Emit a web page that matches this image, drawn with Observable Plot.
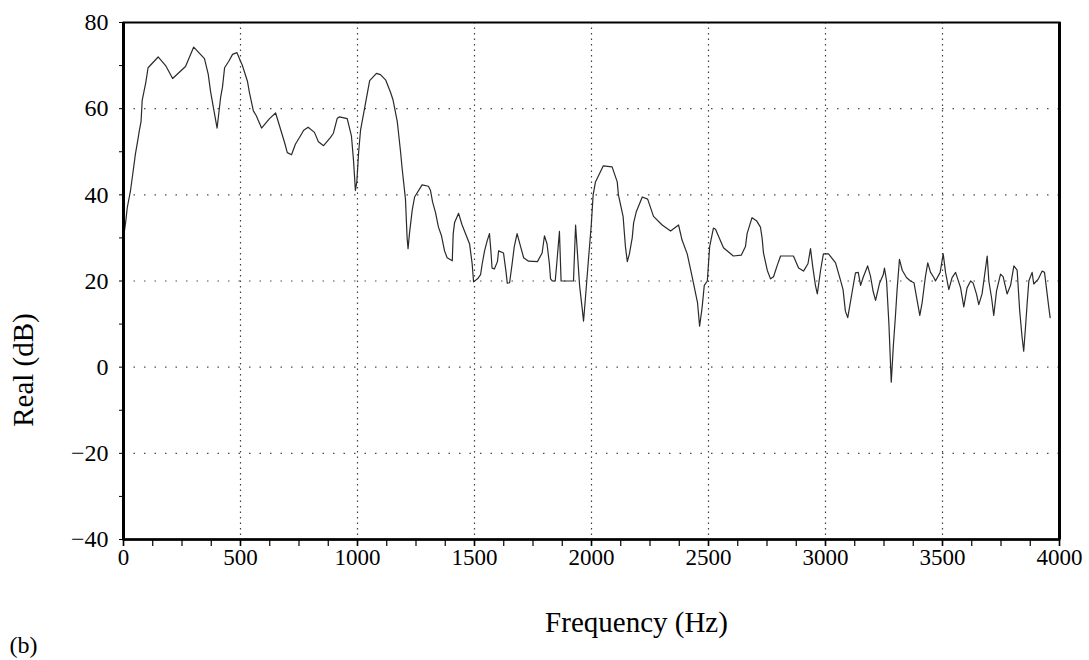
<!DOCTYPE html>
<html>
<head>
<meta charset="utf-8">
<script src="https://cdn.jsdelivr.net/npm/d3@7"></script>
<script src="https://cdn.jsdelivr.net/npm/@observablehq/plot@0.6"></script>
<style>
  html, body { margin: 0; padding: 0; background: #ffffff; }
  #chart svg { display: block; }
</style>
</head>
<body>
<div id="chart"></div>
<script>
// Frequency (Hz) and real part (dB)
const freqHz = [
  0,10,16,30,40,51,62,68,75,80,
  95,105,148,180,210,265,300,346,362,372,
  385,400,415,423,432,450,466,485,500,507,
  530,538,555,567,590,624,650,664,688,700,
  718,735,752,770,789,816,833,855,884,897,
  913,923,956,974,983,991,997,1005,1013,1030,
  1052,1081,1098,1120,1141,1152,1170,1176,1184,1191,
  1205,1212,1216,1222,1234,1244,1276,1303,1312,1321,
  1333,1346,1359,1372,1383,1405,1409,1415,1432,1447,
  1469,1479,1490,1496,1513,1526,1533,1543,1554,1564,
  1570,1575,1585,1598,1603,1624,1635,1640,1650,1662,
  1670,1682,1697,1710,1731,1769,1789,1799,1810,1820,
  1825,1833,1845,1853,1863,1870,1923,1932,1949,1960,
  1966,1974,1987,1999,2007,2017,2050,2088,2110,2115,
  2135,2145,2153,2162,2174,2180,2191,2217,2240,2265,
  2302,2338,2372,2387,2409,2430,2453,2462,2473,2482,
  2495,2505,2521,2530,2564,2606,2640,2658,2665,2686,
  2705,2722,2729,2735,2751,2765,2778,2793,2808,2863,
  2885,2906,2925,2936,2945,2957,2965,2979,2991,3013,
  3043,3064,3075,3085,3095,3103,3114,3128,3140,3150,
  3162,3180,3192,3204,3214,3231,3247,3252,3261,3271,
  3281,3290,3299,3306,3316,3328,3346,3363,3378,3403,
  3413,3427,3437,3449,3463,3470,3490,3503,3513,3527,
  3541,3556,3565,3577,3591,3605,3620,3631,3645,3655,
  3669,3684,3691,3698,3710,3719,3731,3748,3759,3776,
  3791,3805,3819,3830,3840,3847,3855,3862,3869,3883,
  3890,3910,3926,3936,3954,3960
];
const realDb = [
  30,34,37,41,45,49.5,53,55,57,62,
  66,69.5,72,70,67,69.8,74.3,71.6,68,64,
  60,55.5,62.6,65,69.5,71,72.6,73,71,70.2,
  66.3,63.8,59.5,58.4,55.5,57.7,59,56.5,52.2,49.8,
  49.3,51.8,53.3,55,55.7,54.5,52.3,51.4,53.3,54.3,
  57.7,58.1,57.7,53.7,48,41,43,50,55,60,
  66.5,68.2,67.9,66.7,63.8,62,57,54,50,46,
  39,30,27.5,31,36.5,39.5,42.3,42,41,38.3,
  36,32.5,30.5,27,25.4,24.7,31,33.6,35.7,33,
  30,28.6,24,19.8,20.5,21.5,24,27,29.3,31,
  27,23,22.8,24.5,27,26.5,22,19.5,19.6,24.5,
  28,31,28,25.4,24.6,24.5,26.5,30.5,28.6,24,
  20.5,20,20,25,31.5,20,20,33,19,13.7,
  10.7,16,25,33,40,43,46.7,46.5,43,40,
  35,28,24.5,26.3,30,33.5,36,39.5,39,35,
  33,31.6,33,29.5,26.3,21,15,9.5,14,19,
  20,28,32.3,32,27.7,25.8,26,28,31,34.7,
  34,32.5,30,26.5,22.5,20.5,21,23.5,25.8,25.8,
  23,22.3,24,27.5,23.5,19,17,22.5,26.3,26.3,
  24.2,20.2,18,13,11.5,14,17.5,21.9,22,19,
  21,23.5,21.2,17.5,15.5,19.5,21.5,23,20,10,
  -3.5,5,12,18,25,22.5,20.8,20,19.6,12,
  15,21,24.2,22,20.8,20,22,26.3,22,18,
  20.8,22,20.5,18.5,14,18.4,20,19.5,17,14.5,
  17,23,25.8,20,16,12,17.7,21.6,21,17,
  19,23.5,22.5,13,7,3.7,9.5,15,20,22,
  19.3,20.5,22.3,22,14,11.5
];

const xTicks = [0, 500, 1000, 1500, 2000, 2500, 3000, 3500, 4000];
const xMinorTicks = d3.range(0, 4001, 125);
const xGrid = [500, 1000, 1500, 2000, 2500, 3000, 3500];
const yTicks = [-40, -20, 0, 20, 40, 60, 80];
const yMinorTicks = d3.range(-40, 81, 10);
const yGrid = [-20, 0, 20, 40, 60];
const xLabel = ["Frequency (Hz)"];
const yLabel = ["Real (dB)"];
const panelLabel = ["(b)"];

const data = freqHz.map((f, i) => ({f, v: realDb[i]}));
const fmtX = d => String(d);
const fmtY = d => (d < 0 ? "\u2212" + Math.abs(d) : String(d));

const chart = Plot.plot({
  width: 1089,
  height: 660,
  marginLeft: 123,
  marginRight: 30,
  marginTop: 22,
  marginBottom: 121,
  style: {
    fontFamily: "'Liberation Serif', 'DejaVu Serif', serif",
    fontSize: "24px",
    background: "#ffffff",
    color: "#000000"
  },
  x: {domain: [0, 4000]},
  y: {domain: [-40, 80]},
  marks: [
    Plot.gridX(xGrid, {stroke: "#000", strokeOpacity: 0.75, strokeWidth: 1.2, strokeDasharray: "1.5,4"}),
    Plot.gridY(yGrid, {stroke: "#000", strokeOpacity: 0.7, strokeWidth: 1.2, strokeDasharray: "1.5,9"}),
    Plot.axisX({ticks: xMinorTicks, tickSize: 7, tickFormat: () => "", label: null, strokeWidth: 1.2}),
    Plot.axisX({ticks: xTicks, tickSize: 7, tickPadding: 2, tickFormat: fmtX, label: null, fontSize: 23, strokeWidth: 1.5}),
    Plot.axisY({ticks: yMinorTicks, tickSize: 4, tickFormat: () => "", label: null}),
    Plot.axisY({ticks: yTicks, tickSize: 0, tickPadding: 15, tickFormat: fmtY, label: null, fontSize: 24}),
    Plot.line(data, {x: "f", y: "v", stroke: "#2a2a2a", strokeWidth: 1.2}),
    Plot.frame({stroke: "#000", strokeWidth: 2}),
    Plot.ruleX([0, 4000], {stroke: "#000", strokeWidth: 3}),
    Plot.ruleY([-40], {stroke: "#000", strokeWidth: 2.5}),
    Plot.text(xLabel, {text: d => d, frameAnchor: "bottom", dx: 45, dy: 83, fontSize: 29, lineAnchor: "middle"}),
    Plot.text(yLabel, {text: d => d, frameAnchor: "left", dx: -100, dy: 89, rotate: -90, fontSize: 29, lineAnchor: "middle", textAnchor: "middle"}),
    Plot.text(panelLabel, {text: d => d, frameAnchor: "bottom-left", dx: -100, dy: 106, fontSize: 24, lineAnchor: "middle", textAnchor: "middle"})
  ]
});
document.getElementById("chart").appendChild(chart);
</script>
</body>
</html>
